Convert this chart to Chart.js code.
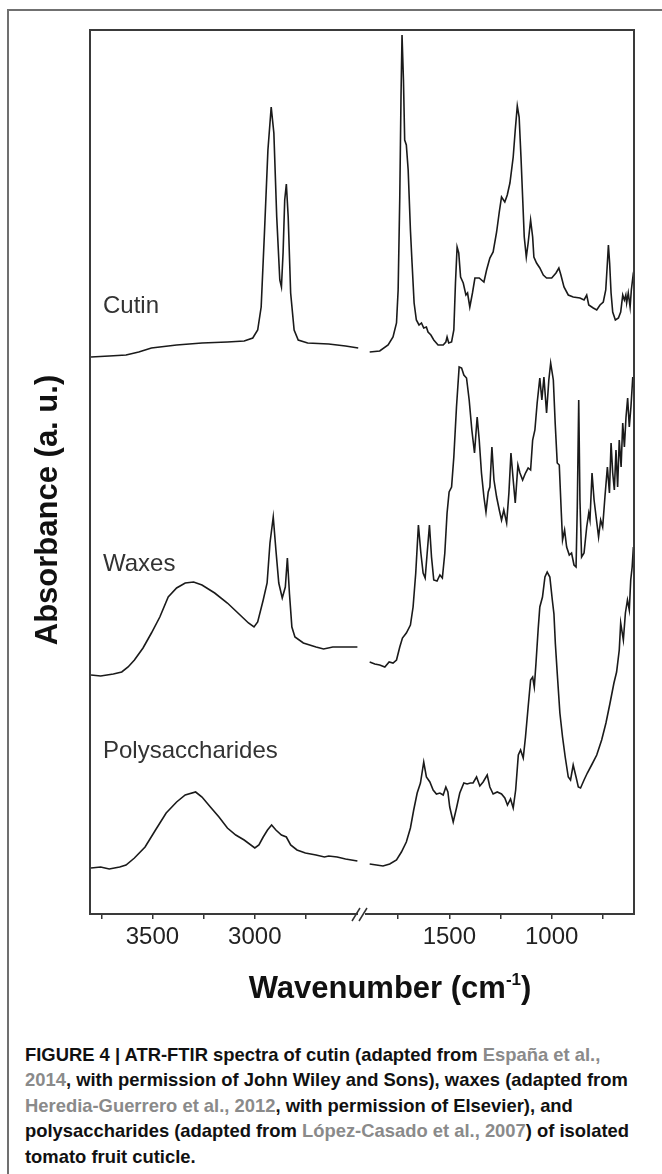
<!DOCTYPE html>
<html>
<head>
<meta charset="utf-8">
<script src="https://cdn.jsdelivr.net/npm/chart.js@4.4.1/dist/chart.umd.min.js"></script>
<style>
    html, body { margin: 0; padding: 0; background: #fff; }
    body { width: 662px; height: 1174px; overflow: hidden; position: relative; }
    .frame { position: absolute; left: 7px; top: 9px; width: 720px; height: 1300px; border: 2px solid #707070; }
    #spectra { position: absolute; left: 0; top: 0; }
    .caption {
        position: absolute; left: 25px; top: 1042px;
        font: bold 18.4px "Liberation Sans", Arial, sans-serif;
        line-height: 25.4px; color: #111; white-space: nowrap;
    }
    .caption .ref { color: #8a8a8a; }
</style>
</head>
<body>
<div class="frame"></div>
<canvas id="spectra" width="662" height="1030"></canvas>
<div class="caption">
    FIGURE 4 | ATR-FTIR spectra of cutin (adapted from <span class="ref">España et al.,</span><br>
    <span class="ref">2014</span>, with permission of John Wiley and Sons), waxes (adapted from<br>
    <span class="ref">Heredia-Guerrero et al., 2012</span>, with permission of Elsevier), and<br>
    polysaccharides (adapted from <span class="ref">López-Casado et al., 2007</span>) of isolated<br>
    tomato fruit cuticle.
</div>
<script>
// wavenumbers (cm-1) and absorbance (a.u.)
// "hi" = 3800-2500 block, "lo" = 1900-600 block (right of the axis break)
const cutinHiWn  = [3800, 3711, 3629, 3567, 3505, 3382, 3258, 3134, 3052, 3010, 2986, 2969, 2953, 2936, 2920, 2907, 2893, 2878, 2870, 2862, 2854, 2846, 2837, 2825, 2808, 2788, 2742, 2639, 2557, 2495];
const cutinHiAbs = [557, 558, 559, 562, 566, 569, 571, 572, 573, 576, 584, 607, 681, 764, 807, 781, 697, 634, 627, 661, 714, 730, 697, 621, 584, 574, 571, 570, 568, 566];
const cutinLoWn  = [1889, 1840, 1799, 1775, 1758, 1750, 1742, 1736, 1731, 1724, 1718, 1710, 1701, 1690, 1682, 1672, 1661, 1648, 1636, 1625, 1612, 1604, 1590, 1576, 1555, 1530, 1517, 1511, 1503, 1489, 1478, 1470, 1462, 1454, 1445, 1432, 1419, 1411, 1400, 1387, 1375, 1354, 1331, 1318, 1302, 1286, 1269, 1256, 1245, 1229, 1217, 1204, 1188, 1178, 1168, 1159, 1150, 1142, 1134, 1124, 1115, 1103, 1093, 1087, 1074, 1058, 1041, 1025, 1000, 979, 965, 955, 940, 919, 895, 862, 842, 829, 819, 797, 780, 764, 748, 736, 728, 723, 717, 710, 702, 689, 674, 663, 653, 645, 638, 634, 626, 617, 611, 604, 601];
const cutinLoAbs = [562, 563, 569, 577, 591, 624, 717, 817, 879, 834, 774, 769, 744, 684, 651, 611, 594, 589, 591, 586, 587, 582, 579, 574, 569, 569, 572, 577, 571, 572, 584, 631, 667, 661, 637, 631, 619, 621, 607, 621, 636, 636, 632, 644, 656, 662, 682, 702, 717, 712, 719, 731, 757, 784, 808, 797, 757, 717, 677, 657, 671, 694, 677, 657, 651, 646, 639, 636, 636, 641, 646, 639, 627, 619, 617, 616, 614, 619, 609, 606, 604, 609, 612, 624, 651, 669, 651, 621, 602, 594, 596, 602, 619, 614, 619, 611, 621, 607, 624, 636, 631];

const waxHiWn  = [3800, 3753, 3691, 3650, 3619, 3588, 3546, 3505, 3464, 3423, 3382, 3340, 3299, 3258, 3196, 3134, 3072, 3031, 3004, 2986, 2959, 2940, 2926, 2910, 2897, 2883, 2866, 2851, 2841, 2831, 2819, 2804, 2763, 2701, 2664, 2619, 2557, 2499];
const waxHiAbs = [239, 238, 240, 242, 247, 254, 266, 281, 297, 317, 326, 331, 332, 329, 321, 311, 299, 291, 287, 292, 314, 331, 371, 397, 364, 331, 316, 327, 356, 321, 287, 277, 271, 267, 265, 267, 267, 267];
const waxLoWn  = [1889, 1864, 1840, 1815, 1794, 1775, 1758, 1742, 1729, 1710, 1690, 1677, 1664, 1651, 1639, 1628, 1618, 1607, 1597, 1587, 1576, 1560, 1546, 1534, 1522, 1511, 1501, 1489, 1478, 1465, 1452, 1440, 1429, 1416, 1403, 1390, 1377, 1364, 1354, 1343, 1331, 1321, 1310, 1302, 1292, 1282, 1269, 1256, 1245, 1234, 1220, 1209, 1199, 1188, 1178, 1165, 1155, 1142, 1128, 1115, 1103, 1093, 1082, 1071, 1058, 1048, 1038, 1025, 1014, 1005, 992, 983, 973, 963, 953, 947, 937, 927, 914, 903, 891, 881, 875, 868, 862, 854, 842, 829, 819, 813, 803, 793, 780, 771, 761, 751, 740, 728, 718, 710, 702, 694, 686, 678, 670, 661, 653, 645, 637, 629, 621, 613, 604, 600];
const waxLoAbs = [252, 250, 249, 247, 252, 251, 254, 267, 276, 281, 289, 307, 341, 389, 361, 341, 336, 364, 389, 357, 334, 333, 339, 336, 361, 401, 422, 427, 457, 507, 547, 546, 539, 536, 514, 484, 461, 497, 474, 441, 417, 402, 422, 427, 467, 434, 417, 404, 394, 404, 391, 421, 461, 434, 411, 449, 441, 434, 441, 446, 444, 474, 484, 511, 536, 514, 537, 501, 534, 551, 534, 491, 451, 449, 401, 374, 384, 367, 359, 361, 349, 347, 407, 514, 414, 357, 361, 387, 401, 394, 441, 414, 392, 377, 394, 387, 417, 447, 421, 471, 441, 424, 464, 427, 474, 447, 491, 467, 497, 516, 487, 507, 537, 531];

const polyHiWn  = [3800, 3753, 3711, 3660, 3629, 3588, 3536, 3485, 3433, 3382, 3340, 3289, 3258, 3217, 3175, 3134, 3093, 3052, 3000, 2980, 2959, 2938, 2918, 2897, 2870, 2846, 2825, 2794, 2753, 2701, 2660, 2639, 2598, 2557, 2499];
const polyHiAbs = [46, 47, 45, 47, 49, 56, 67, 84, 101, 112, 119, 122, 117, 107, 97, 86, 79, 74, 66, 69, 77, 84, 89, 84, 79, 77, 69, 64, 61, 59, 57, 58, 57, 55, 53];
const polyLoWn  = [1889, 1856, 1824, 1791, 1758, 1734, 1710, 1690, 1674, 1657, 1641, 1625, 1612, 1595, 1579, 1563, 1546, 1530, 1517, 1507, 1498, 1481, 1465, 1449, 1429, 1413, 1397, 1384, 1367, 1351, 1335, 1315, 1302, 1286, 1266, 1245, 1229, 1216, 1201, 1188, 1176, 1163, 1152, 1139, 1128, 1115, 1103, 1093, 1085, 1077, 1066, 1058, 1045, 1033, 1022, 1009, 997, 989, 982, 973, 960, 947, 934, 919, 908, 895, 881, 870, 859, 842, 826, 805, 780, 756, 735, 715, 696, 683, 670, 663, 650, 640, 630, 621, 614, 607, 601];
const polyLoAbs = [50, 49, 48, 50, 54, 62, 72, 86, 104, 121, 131, 152, 137, 132, 124, 120, 121, 119, 127, 122, 107, 92, 106, 121, 131, 130, 131, 131, 137, 128, 132, 139, 127, 120, 122, 120, 116, 109, 115, 106, 124, 159, 164, 156, 177, 207, 234, 237, 227, 250, 285, 307, 317, 337, 342, 337, 314, 300, 270, 241, 201, 177, 157, 137, 134, 149, 137, 127, 126, 134, 141, 149, 159, 174, 191, 211, 231, 242, 264, 291, 274, 301, 314, 304, 334, 347, 367];

const seriesNames = ['Cutin', 'Waxes', 'Polysaccharides'];
const tickValues = [3750, 3500, 3250, 3000, 2750, 1750, 1500, 1250, 1000, 750];
const tickLabels = ['', '3500', '', '3000', '', '', '1500', '', '1000', ''];

// broken axis: the low block is slid up against the high block
const BREAK_SHIFT = 550;
const toAxis = wn => wn < 2200 ? wn + BREAK_SHIFT : wn;

function buildSeries(hiWn, hiAbs, loWn, loAbs) {
    const pts = hiWn.map((w, i) => ({ x: toAxis(w), y: hiAbs[i] }));
    pts.push({ x: 2470, y: null });   // gap at the break
    loWn.forEach((w, i) => pts.push({ x: toAxis(w), y: loAbs[i] }));
    return pts;
}

const FONT = '"Liberation Sans", Arial, Helvetica, sans-serif';
Chart.defaults.font.family = FONT;

const decor = {
    id: 'decor',
    afterDraw(chart) {
        const { ctx, chartArea: a } = chart;
        ctx.save();
        // plot frame
        ctx.strokeStyle = '#3a3a3a';
        ctx.lineWidth = 2;
        ctx.strokeRect(a.left, a.top, a.right - a.left, a.bottom - a.top);

        // axis break "//"
        const bx = 361, by = a.bottom;
        ctx.fillStyle = '#fff';
        ctx.fillRect(bx - 3, by - 3, 7, 6);
        ctx.strokeStyle = '#333';
        ctx.lineWidth = 1.5;
        ctx.beginPath();
        ctx.moveTo(bx - 9, by + 7); ctx.lineTo(bx - 1, by - 6);
        ctx.moveTo(bx - 2, by + 7); ctx.lineTo(bx + 6, by - 6);
        ctx.stroke();

        // spectrum names
        ctx.fillStyle = '#333';
        ctx.font = '24px ' + FONT;
        ctx.textAlign = 'left';
        ctx.textBaseline = 'alphabetic';
        ctx.fillText(seriesNames[0], 103, 313);
        ctx.fillText(seriesNames[1], 103, 571);
        ctx.fillText(seriesNames[2], 103, 758);

        // y title
        ctx.fillStyle = '#111';
        ctx.font = 'bold 31px ' + FONT;
        ctx.save();
        ctx.translate(57, 510);
        ctx.rotate(-Math.PI / 2);
        ctx.textAlign = 'center';
        ctx.fillText('Absorbance (a. u.)', 0, 0);
        ctx.restore();

        // x title with superscript
        const main = 'Wavenumber (cm', sup = '-1', tail = ')';
        ctx.font = 'bold 31px ' + FONT;
        const w1 = ctx.measureText(main).width;
        const w3 = ctx.measureText(tail).width;
        ctx.font = 'bold 17px ' + FONT;
        const w2 = ctx.measureText(sup).width;
        let x = 390 - (w1 + w2 + w3) / 2;
        const base = 998;
        ctx.textAlign = 'left';
        ctx.font = 'bold 31px ' + FONT;
        ctx.fillText(main, x, base);
        x += w1;
        ctx.font = 'bold 17px ' + FONT;
        ctx.fillText(sup, x, base - 13);
        x += w2;
        ctx.font = 'bold 31px ' + FONT;
        ctx.fillText(tail, x, base);
        ctx.restore();
    }
};

const lineStyle = {
    borderColor: '#1a1a1a',
    borderWidth: 1.6,
    pointRadius: 0,
    tension: 0,
    fill: false,
    spanGaps: false
};

new Chart(document.getElementById('spectra'), {
    type: 'line',
    data: {
        datasets: [
            { label: seriesNames[0], data: buildSeries(cutinHiWn, cutinHiAbs, cutinLoWn, cutinLoAbs), ...lineStyle },
            { label: seriesNames[1], data: buildSeries(waxHiWn, waxHiAbs, waxLoWn, waxLoAbs), ...lineStyle },
            { label: seriesNames[2], data: buildSeries(polyHiWn, polyHiAbs, polyLoWn, polyLoAbs), ...lineStyle }
        ]
    },
    options: {
        responsive: false,
        animation: false,
        devicePixelRatio: 1,
        layout: { padding: { left: 90, right: 28, top: 30, bottom: 76 } },
        scales: {
            x: {
                type: 'linear',
                reverse: true,
                min: 1148,
                max: 3805,
                afterBuildTicks: axis => {
                    axis.ticks = tickValues.map(v => ({ value: toAxis(v) }));
                },
                afterFit: axis => { axis.height = 40; },
                ticks: {
                    autoSkip: false,
                    maxRotation: 0,
                    padding: 4,
                    color: '#222',
                    font: { size: 24 },
                    callback: (value) => {
                        const i = tickValues.findIndex(v => toAxis(v) === value);
                        return i >= 0 ? tickLabels[i] : '';
                    }
                },
                grid: { drawOnChartArea: false, drawTicks: true, tickLength: 5, color: '#333', lineWidth: 1.5 },
                border: { display: true, color: '#3a3a3a', width: 2 }
            },
            y: {
                display: false,
                min: 0,
                max: 884
            }
        },
        plugins: {
            legend: { display: false },
            tooltip: { enabled: false }
        }
    },
    plugins: [decor]
});
</script>
</body>
</html>
